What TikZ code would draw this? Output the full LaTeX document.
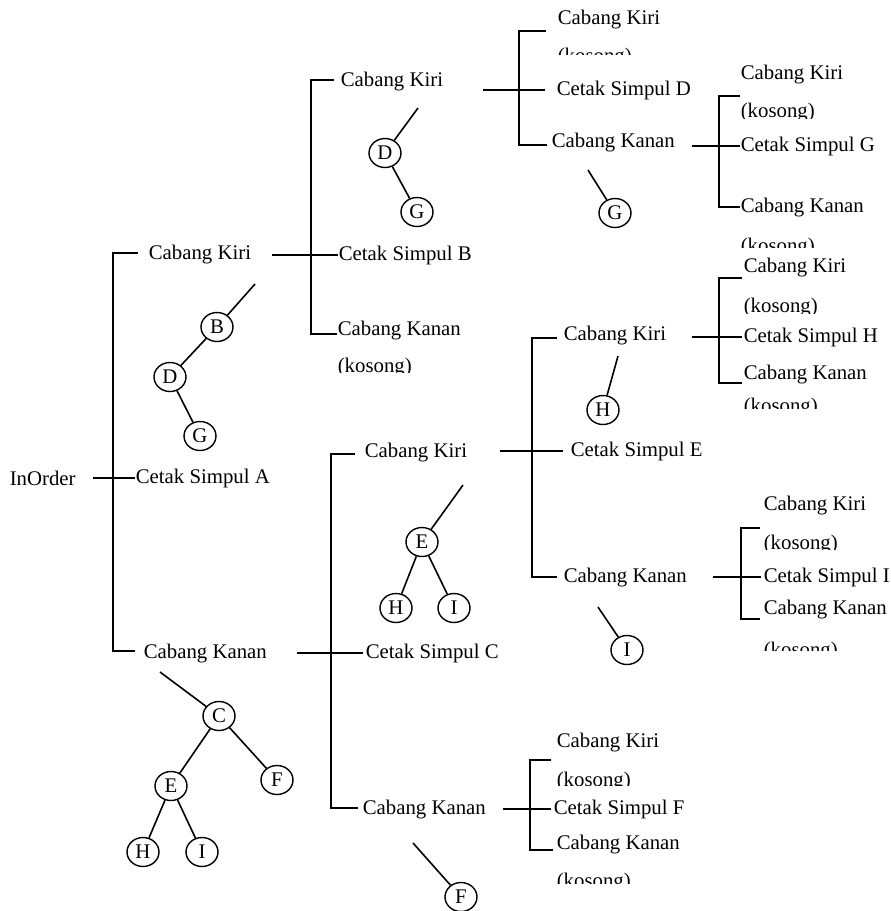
\documentclass[tikz,border=0pt]{standalone}
\usepackage{fontspec}
\setmainfont{Liberation Serif}
\usetikzlibrary{shapes.geometric}

\begin{document}
\begin{tikzpicture}[x=0.5pt,y=-0.5pt,line width=0.8pt,
    teks/.style={anchor=west,inner ysep=0pt,inner xsep=#1,font=\fontsize{10.4}{12}\selectfont},
    teks/.default=0pt,
    kosong/.style={anchor=base west,inner sep=0pt,font=\fontsize{10.4}{12}\selectfont},
    simpul/.style={draw,ellipse,inner sep=0pt,minimum width=16pt,minimum height=14.5pt,line width=0.7pt,font=\fontsize{10.4}{12}\selectfont}] %
    \useasboundingbox (0,0) rectangle (890,911);
    % akar A
    \node[teks] (inorder) at (9,478) {InOrder} ; %
    \node[teks] (cetakA) at (135,478) {Cetak Simpul A} ; %
    \node[teks] (kiriA) at (148,255) {Cabang Kiri} ; %
    \node[teks] (kananA) at (143,654) {Cabang Kanan} ; %
    \coordinate (mulaiA) at (93,478);
    \coordinate (tengahA) at (113,478);
    \coordinate (atasA) at (138,253);
    \coordinate (bawahA) at (135,651);
    \draw (mulaiA)--(cetakA.west) ;
    \draw (atasA) -| (tengahA) |- (bawahA) ;
    % simpul B
    \node[teks] (kiriB) at (340,82) {Cabang Kiri} ; %
    \node[teks] (cetakB) at (338,255) {Cetak Simpul B} ; %
    \node[teks] (kananB) at (337,331) {Cabang Kanan} ; %
    \begin{scope}
      \clip (330,340) rectangle (430,372.5);
      \node[kosong] (kosongB) at (337,372) {(kosong)};
    \end{scope}
    \coordinate (mulaiB) at (272,255);
    \coordinate (tengahB) at (311,255);
    \coordinate (atasB) at (334,80);
    \coordinate (bawahB) at (337,334);
    \draw (mulaiB)--(cetakB.west) ;
    \draw (atasB) -| (tengahB) |- (bawahB) ;
    % simpul D
    \node[teks] (kiriD) at (557,20) {Cabang Kiri} ; %
    \begin{scope}
      \clip (550,30) rectangle (650,54);
      \node[kosong] (kosongD) at (557,62) {(kosong)};
    \end{scope}
    \node[teks=5.5pt] (cetakD) at (545,90) {Cetak Simpul D} ; %
    \node[teks] (kananD) at (551,143) {Cabang Kanan} ; %
    \coordinate (mulaiD) at (483,90);
    \coordinate (tengahD) at (519,90);
    \coordinate (atasD) at (546,31);
    \coordinate (bawahD) at (547,145);
    \draw (mulaiD)--(cetakD.west) ;
    \draw (atasD) -| (tengahD) |- (bawahD) ;
    % simpul G
    \node[teks] (kiriG) at (740,75) {Cabang Kiri} ; %
    \begin{scope}
      \clip (735,95) rectangle (850,118);
      \node[kosong] (kosongG) at (740,117) {(kosong)};
    \end{scope}
    \node[teks] (cetakG) at (740,146) {Cetak Simpul G} ; %
    \node[teks] (kananG) at (740,208) {Cabang Kanan} ; %
    \begin{scope}
      \clip (735,225) rectangle (850,247);
      \node[kosong] (kosongGb) at (740,252) {(kosong)};
    \end{scope}
    \coordinate (mulaiG) at (692,146);
    \coordinate (tengahG) at (719,146);
    \coordinate (atasG) at (740,96);
    \coordinate (bawahG) at (740,207);
    \draw (mulaiG)--(cetakG.west) ;
    \draw (atasG) -| (tengahG) |- (bawahG) ;
    % simpul C
    \node[teks] (kiriC) at (364,453) {Cabang Kiri} ; %
    \node[teks=1pt] (cetakC) at (363,653) {Cetak Simpul C} ; %
    \node[teks] (kananC) at (362,810) {Cabang Kanan} ; %
    \coordinate (mulaiC) at (297,653);
    \coordinate (tengahC) at (331,653);
    \coordinate (atasC) at (355,454);
    \coordinate (bawahC) at (358,808);
    \draw (mulaiC)--(cetakC.west) ;
    \draw (atasC) -| (tengahC) |- (bawahC) ;
    % simpul E
    \node[teks] (kiriE) at (563,336) {Cabang Kiri} ; %
    \node[teks=3.5pt] (cetakE) at (563,451) {Cetak Simpul E} ; %
    \node[teks] (kananE) at (563,578) {Cabang Kanan} ; %
    \coordinate (mulaiE) at (500,451);
    \coordinate (tengahE) at (532,451);
    \coordinate (atasE) at (557,338);
    \coordinate (bawahE) at (557,577);
    \draw (mulaiE)--(cetakE.west) ;
    \draw (atasE) -| (tengahE) |- (bawahE) ;
    % simpul H
    \node[teks] (kiriH) at (743,268) {Cabang Kiri} ; %
    \begin{scope}
      \clip (738,285) rectangle (850,313);
      \node[kosong] (kosongH) at (743,312) {(kosong)};
    \end{scope}
    \node[teks=0.5pt] (cetakH) at (742,337) {Cetak Simpul H} ; %
    \node[teks] (kananH) at (743,375) {Cabang Kanan} ; %
    \begin{scope}
      \clip (738,390) rectangle (850,408);
      \node[kosong] (kosongHb) at (743,412) {(kosong)};
    \end{scope}
    \coordinate (mulaiH) at (692,337);
    \coordinate (tengahH) at (719,337);
    \coordinate (atasH) at (742,278);
    \coordinate (bawahH) at (742,383);
    \draw (mulaiH)--(cetakH.west) ;
    \draw (atasH) -| (tengahH) |- (bawahH) ;
    % simpul I
    \node[teks] (kiriI) at (763,506) {Cabang Kiri} ; %
    \begin{scope}
      \clip (758,525) rectangle (870,549);
      \node[kosong] (kosongI) at (763,549) {(kosong)};
    \end{scope}
    \node[teks=1pt] (cetakI) at (761,577) {Cetak Simpul I} ; %
    \node[teks] (kananI) at (763,610) {Cabang Kanan} ; %
    \begin{scope}
      \clip (758,630) rectangle (870,650);
      \node[kosong] (kosongIb) at (763,656) {(kosong)};
    \end{scope}
    \coordinate (mulaiI) at (713,577);
    \coordinate (tengahI) at (741,577);
    \coordinate (atasI) at (760,528);
    \coordinate (bawahI) at (760,619);
    \draw (mulaiI)--(cetakI.west) ;
    \draw (atasI) -| (tengahI) |- (bawahI) ;
    % simpul F
    \node[teks] (kiriF) at (556,743) {Cabang Kiri} ; %
    \begin{scope}
      \clip (550,760) rectangle (660,785);
      \node[kosong] (kosongF) at (556,786) {(kosong)};
    \end{scope}
    \node[teks=1pt] (cetakF) at (551,809) {Cetak Simpul F} ; %
    \node[teks] (kananF) at (556,845) {Cabang Kanan} ; %
    \begin{scope}
      \clip (550,865) rectangle (660,883);
      \node[kosong] (kosongFb) at (556,887) {(kosong)};
    \end{scope}
    \coordinate (mulaiF) at (503,809);
    \coordinate (tengahF) at (530,809);
    \coordinate (atasF) at (551,760);
    \coordinate (bawahF) at (553,850);
    \draw (mulaiF)--(cetakF.west) ;
    \draw (atasF) -| (tengahF) |- (bawahF) ;
    % pohon-pohon kecil
    \node[simpul] (b1) at (217,327) {B};
    \node[simpul] (d1) at (170,377) {D};
    \node[simpul] (g1) at (200,436) {G};
    \coordinate (ujung1) at (255,284);
    \draw (ujung1)--(b1) ;
    \draw (b1)--(d1) ;
    \draw (d1)--(g1) ;
    \node[simpul] (d2) at (385,153) {D};
    \node[simpul] (g2) at (417,212) {G};
    \coordinate (ujung2) at (418,108);
    \draw (ujung2)--(d2) ;
    \draw (d2)--(g2) ;
    \node[simpul] (g3) at (615,213) {G};
    \coordinate (ujung3) at (588,170);
    \draw (ujung3)--(g3) ;
    \node[simpul] (c4) at (219,716) {C};
    \node[simpul] (e4) at (171,786) {E};
    \node[simpul] (f4) at (277,780) {F};
    \node[simpul] (h4) at (143,852) {H};
    \node[simpul] (i4) at (202,852) {I};
    \coordinate (ujung4) at (160,672);
    \draw (ujung4)--(c4) ;
    \draw (c4)--(e4) ;
    \draw (c4)--(f4) ;
    \draw (e4)--(h4) ;
    \draw (e4)--(i4) ;
    \node[simpul] (e5) at (422,542) {E};
    \node[simpul] (h5) at (396,608) {H};
    \node[simpul] (i5) at (454,608) {I};
    \coordinate (ujung5) at (463,485);
    \draw (ujung5)--(e5) ;
    \draw (e5)--(h5) ;
    \draw (e5)--(i5) ;
    \node[simpul] (h6) at (603,410) {H};
    \coordinate (ujung6) at (618,356);
    \draw (ujung6)--(h6) ;
    \node[simpul] (i7) at (627,650) {I};
    \coordinate (ujung7) at (598,607);
    \draw (ujung7)--(i7) ;
    \node[simpul] (f8) at (461,897) {F};
    \coordinate (ujung8) at (413,843);
    \draw (ujung8)--(f8) ;
  \end{tikzpicture}
\end{document}
